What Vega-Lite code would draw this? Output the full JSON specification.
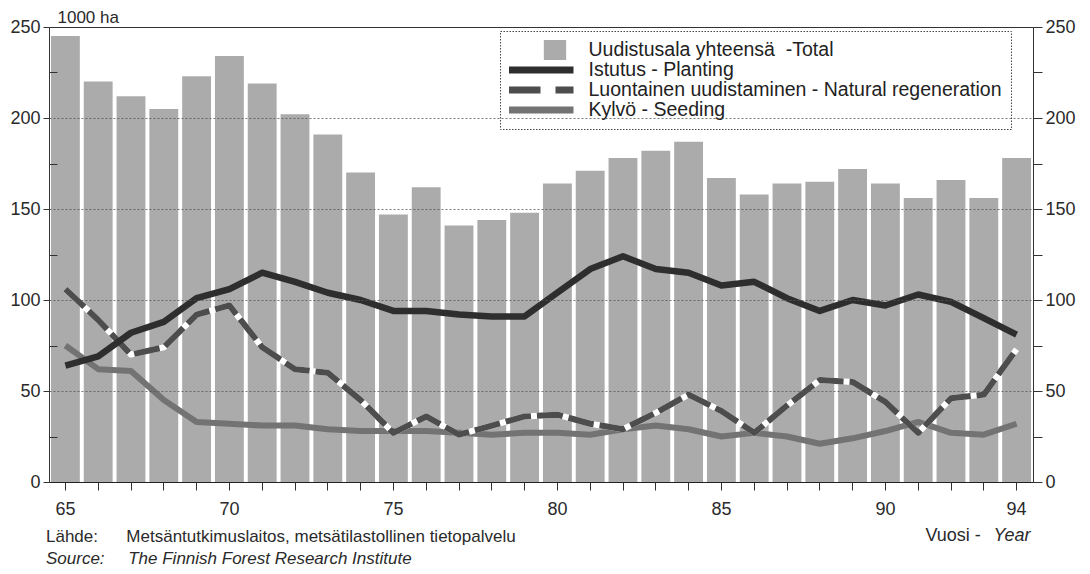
{
  "$schema": "https://vega.github.io/schema/vega-lite/v6.json",
  "width": 984,
  "height": 455,
  "autosize": {"type": "none"},
  "padding": {"left": 49, "top": 27, "right": 57, "bottom": 92},
  "background": "white",
  "config": {
    "font": "Liberation Sans",
    "view": {"stroke": "#333", "strokeWidth": 1},
    "axis": {"labelColor": "#2a2a2a", "titleColor": "#2a2a2a", "domainColor": "#333", "tickColor": "#333", "labelFont": "Liberation Sans", "titleFont": "Liberation Sans", "titleFontWeight": "normal"}
  },
  "title": {
    "text": "Lähde:\u00a0\u00a0\u00a0\u00a0\u00a0\u00a0Metsäntutkimuslaitos, metsätilastollinen tietopalvelu",
    "subtitle": "Source:\u00a0\u00a0\u00a0\u00a0\u00a0The Finnish Forest Research Institute",
    "orient": "bottom",
    "anchor": "start",
    "frame": "group",
    "dx": -3,
    "offset": -15,
    "font": "Liberation Sans",
    "fontSize": 17,
    "fontWeight": "normal",
    "color": "#2a2a2a",
    "subtitleFont": "Liberation Sans",
    "subtitleFontSize": 17,
    "subtitleFontStyle": "italic",
    "subtitleColor": "#2a2a2a",
    "subtitlePadding": 5
  },
  "data": {
    "values": [
      {"year": 65, "total": 245, "planting": 64, "natural": 106, "seeding": 75},
      {"year": 66, "total": 220, "planting": 69, "natural": 89, "seeding": 62},
      {"year": 67, "total": 212, "planting": 82, "natural": 70, "seeding": 61},
      {"year": 68, "total": 205, "planting": 88, "natural": 74, "seeding": 45},
      {"year": 69, "total": 223, "planting": 101, "natural": 92, "seeding": 33},
      {"year": 70, "total": 234, "planting": 106, "natural": 97, "seeding": 32},
      {"year": 71, "total": 219, "planting": 115, "natural": 74, "seeding": 31},
      {"year": 72, "total": 202, "planting": 110, "natural": 62, "seeding": 31},
      {"year": 73, "total": 191, "planting": 104, "natural": 60, "seeding": 29},
      {"year": 74, "total": 170, "planting": 100, "natural": 45, "seeding": 28},
      {"year": 75, "total": 147, "planting": 94, "natural": 27, "seeding": 28},
      {"year": 76, "total": 162, "planting": 94, "natural": 36, "seeding": 28},
      {"year": 77, "total": 141, "planting": 92, "natural": 26, "seeding": 27},
      {"year": 78, "total": 144, "planting": 91, "natural": 31, "seeding": 26},
      {"year": 79, "total": 148, "planting": 91, "natural": 36, "seeding": 27},
      {"year": 80, "total": 164, "planting": 104, "natural": 37, "seeding": 27},
      {"year": 81, "total": 171, "planting": 117, "natural": 32, "seeding": 26},
      {"year": 82, "total": 178, "planting": 124, "natural": 29, "seeding": 29},
      {"year": 83, "total": 182, "planting": 117, "natural": 38, "seeding": 31},
      {"year": 84, "total": 187, "planting": 115, "natural": 48, "seeding": 29},
      {"year": 85, "total": 167, "planting": 108, "natural": 39, "seeding": 25},
      {"year": 86, "total": 158, "planting": 110, "natural": 27, "seeding": 27},
      {"year": 87, "total": 164, "planting": 101, "natural": 42, "seeding": 25},
      {"year": 88, "total": 165, "planting": 94, "natural": 56, "seeding": 21},
      {"year": 89, "total": 172, "planting": 100, "natural": 55, "seeding": 24},
      {"year": 90, "total": 164, "planting": 97, "natural": 44, "seeding": 28},
      {"year": 91, "total": 156, "planting": 103, "natural": 27, "seeding": 33},
      {"year": 92, "total": 166, "planting": 99, "natural": 46, "seeding": 27},
      {"year": 93, "total": 156, "planting": 90, "natural": 48, "seeding": 26},
      {"year": 94, "total": 178, "planting": 81, "natural": 73, "seeding": 32}
    ]
  },
  "transform": [{"fold": ["total", "planting", "natural", "seeding"], "as": ["series", "value"]}],
  "layer": [
    {
      "transform": [{"filter": "datum.series === 'total'"}],
      "mark": {"type": "bar"},
      "encoding": {
        "x": {
          "field": "year", "type": "ordinal",
          "scale": {"paddingInner": 0.12, "paddingOuter": 0.06},
          "axis": {
            "title": "Vuosi -", "titleX": 876, "titleY": 58, "titleAlign": "left", "titleBaseline": "alphabetic",
            "titleFontSize": 18, "titleFontWeight": "normal",
            "labelAngle": 0, "labelFontSize": 18,
            "labelExpr": "indexof([65,70,75,80,85,90,94], datum.value) >= 0 ? datum.label : ''",
            "tickSize": 8, "labelPadding": 10, "domainColor": "#222", "domainWidth": 1.2, "grid": false
          }
        },
        "y": {
          "field": "value", "type": "quantitative",
          "scale": {"domain": [0, 250], "nice": false},
          "axis": {
            "orient": "left",
            "values": [0, 25, 50, 75, 100, 125, 150, 175, 200, 225, 250],
            "title": "1000 ha", "titleAngle": 0, "titleX": 8, "titleY": -5, "titleAlign": "left", "titleBaseline": "alphabetic",
            "titleFontSize": 17, "titleFontWeight": "normal",
            "labelFontSize": 18,
            "labelExpr": "datum.value % 50 === 0 ? datum.label : ''",
            "tickSize": {"condition": {"test": "datum.value % 50 === 0", "value": 6}, "value": -8},
            "labelPadding": 3,
            "grid": true, "gridColor": "#555", "gridWidth": 0.8, "gridDash": [2, 2],
            "gridOpacity": {"condition": {"test": "datum.value % 50 === 0 && datum.value > 0 && datum.value < 250", "value": 1}, "value": 0},
            "zindex": 1
          }
        },
        "color": {
          "field": "series", "type": "nominal",
          "scale": {"domain": ["total", "planting", "natural", "seeding"], "range": ["#ababab", "#2e2e2e", "#4d4d4d", "#737373"]},
          "legend": {
            "orient": "none", "legendX": 451, "legendY": 4, "title": null, "direction": "vertical",
            "padding": 9, "fillColor": "white", "strokeColor": "#444",
            "labelFontSize": 19.5, "labelColor": "#222", "labelFont": "Liberation Sans",
            "symbolSize": 400, "symbolOffset": 22, "labelOffset": 38, "rowPadding": 0, "clipHeight": 20, "labelLimit": 700,
            "labelExpr": "{'total': 'Uudistusala yhteensä\u00a0\u00a0-Total', 'planting': 'Istutus - Planting', 'natural': 'Luontainen uudistaminen - Natural regeneration', 'seeding': 'Kylvö - Seeding'}[datum.value]",
            "encode": {
              "legend": {
                "update": {
                  "strokeDash": {"value": [1.5, 1.5]}
                }
              },
              "symbols": {
                "update": {
                  "shape": {"signal": "datum.value === 'total' ? 'square' : 'stroke'"},
                  "size": {"signal": "datum.value === 'total' ? 500 : 4225"},
                  "x": {"signal": "datum.value === 'total' ? 46 : 32"},
                  "strokeWidth": {"signal": "datum.value === 'total' ? 0 : 7"},
                  "strokeDash": {"signal": "datum.value === 'natural' ? [32, 15] : [1, 0]"},
                  "fill": {"signal": "scale('color', datum.value)"},
                  "stroke": {"signal": "scale('color', datum.value)"}
                }
              }
            }
          }
        }
      }
    },
    {
      "transform": [{"filter": "datum.series === 'seeding'"}],
      "mark": {"type": "line", "strokeWidth": 6, "strokeJoin": "round"},
      "encoding": {
        "x": {"field": "year", "type": "ordinal"},
        "y": {"field": "value", "type": "quantitative", "axis": null},
        "color": {"field": "series", "type": "nominal"}
      }
    },
    {
      "transform": [{"filter": "datum.series === 'natural'"}],
      "mark": {"type": "line", "strokeWidth": 6, "strokeJoin": "round", "color": "white"},
      "encoding": {
        "x": {"field": "year", "type": "ordinal"},
        "y": {"field": "value", "type": "quantitative", "axis": null}
      }
    },
    {
      "transform": [{"filter": "datum.series === 'natural'"}],
      "mark": {"type": "line", "strokeWidth": 6, "strokeJoin": "round", "strokeDash": [26, 6]},
      "encoding": {
        "x": {"field": "year", "type": "ordinal"},
        "y": {"field": "value", "type": "quantitative", "axis": null},
        "color": {"field": "series", "type": "nominal"}
      }
    },
    {
      "transform": [{"filter": "datum.series === 'planting'"}],
      "mark": {"type": "line", "strokeWidth": 6.5, "strokeJoin": "round"},
      "encoding": {
        "x": {"field": "year", "type": "ordinal"},
        "y": {
          "field": "value", "type": "quantitative",
          "axis": {
            "orient": "right",
            "values": [0, 25, 50, 75, 100, 125, 150, 175, 200, 225, 250],
            "labelExpr": "datum.value % 50 === 0 ? datum.label : ''",
            "labelFontSize": 18, "tickSize": 9, "labelPadding": 3, "grid": false,
            "title": "Year", "titleAngle": 0, "titleFontStyle": "italic", "titleFontWeight": "normal", "titleFontSize": 18,
            "titleX": -3, "titleY": 513, "titleAlign": "right", "titleBaseline": "alphabetic"
          }
        },
        "color": {"field": "series", "type": "nominal"}
      }
    }
  ],
  "resolve": {"axis": {"y": "independent"}}
}
